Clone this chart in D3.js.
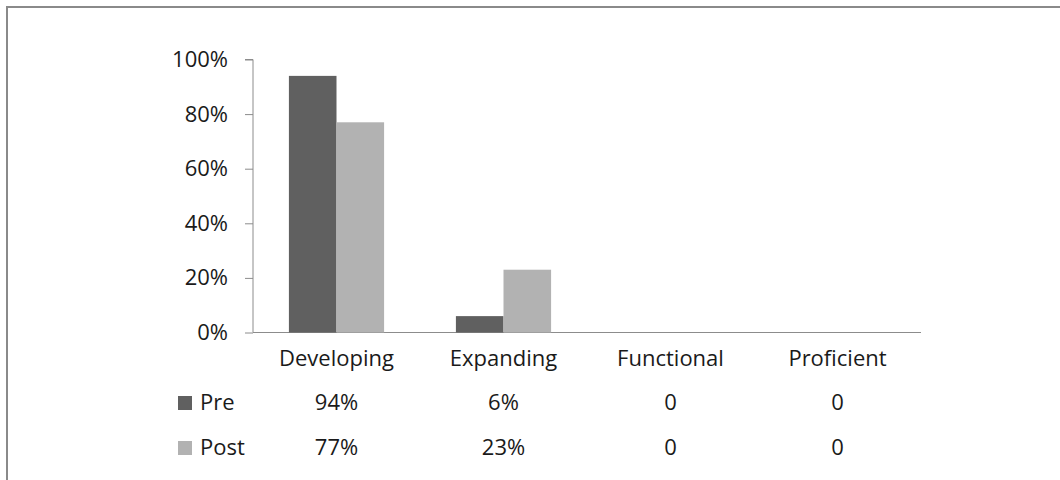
<!DOCTYPE html>
<html>
<head>
<meta charset="utf-8">
<script src="https://cdn.jsdelivr.net/npm/d3@7/dist/d3.min.js"></script>
<style>
  html, body { margin: 0; padding: 0; background: #fff; }
  svg { display: block; }
  text { font-family: "Open Sans", "Noto Sans", sans-serif; fill: #1a1a1a; }
</style>
</head>
<body>
<svg id="chart" width="1060" height="480"></svg>
<script>
// Proficiency levels and the share of students at each, before and after
const categories = ["Developing", "Expanding", "Functional", "Proficient"];
const seriesNames = ["Pre", "Post"];
const preValues = [0.94, 0.06, 0, 0];
const postValues = [0.77, 0.23, 0, 0];
const preLabels = ["94%", "6%", "0", "0"];
const postLabels = ["77%", "23%", "0", "0"];
const yTicks = [0, 0.2, 0.4, 0.6, 0.8, 1.0];

const colors = { Pre: "#606060", Post: "#b2b2b2" };
const axisColor = "#8c8c8c";
const fontSize = "22px";

const svg = d3.select("#chart");

// outer frame (only top and left edges fall inside the view)
svg.append("rect")
  .attr("x", 7).attr("y", 7)
  .attr("width", 1100).attr("height", 520)
  .attr("fill", "none")
  .attr("stroke", "#8a8a8a")
  .attr("stroke-width", 2);

const plot = { left: 253, right: 921, top: 59.5, bottom: 332.5 };

const x = d3.scaleBand()
  .domain(categories)
  .range([plot.left, plot.right])
  .paddingInner(0.43)
  .paddingOuter(0.215);

const xSub = d3.scaleBand()
  .domain(seriesNames)
  .range([0, x.bandwidth()]);

const y = d3.scaleLinear()
  .domain([0, 1])
  .range([plot.bottom, plot.top]);

// y axis
const yAxis = svg.append("g")
  .attr("transform", `translate(${plot.left},0)`)
  .call(d3.axisLeft(y).tickValues(yTicks).tickFormat(d3.format(".0%")).tickSize(8).tickPadding(17));
yAxis.select(".domain").attr("stroke", axisColor).attr("d", `M-8,${y(1)}H0V${y(0)}`);
yAxis.selectAll(".tick line").attr("stroke", axisColor);
yAxis.selectAll(".tick text")
  .attr("fill", "#1a1a1a")
  .style("font-size", fontSize)
  .style("font-family", "'Open Sans', 'Noto Sans', sans-serif");

// baseline
svg.append("line")
  .attr("x1", plot.left).attr("x2", plot.right)
  .attr("y1", y(0)).attr("y2", y(0))
  .attr("stroke", axisColor);

// bars
const rows = categories.map((c, i) => ({ cat: c, Pre: preValues[i], Post: postValues[i] }));
const groups = svg.append("g").selectAll("g")
  .data(rows)
  .join("g")
  .attr("transform", d => `translate(${x(d.cat)},0)`);

groups.selectAll("rect")
  .data(d => seriesNames.map(s => ({ s, v: d[s] })))
  .join("rect")
  .attr("x", d => xSub(d.s))
  .attr("width", xSub.bandwidth())
  .attr("y", d => y(d.v))
  .attr("height", d => y(0) - y(d.v))
  .attr("fill", d => colors[d.s]);

// category labels
svg.append("g").selectAll("text")
  .data(categories)
  .join("text")
  .attr("x", d => x(d) + x.bandwidth() / 2)
  .attr("y", 366)
  .attr("text-anchor", "middle")
  .style("font-size", fontSize)
  .text(d => d);

// data table rows with legend keys
const tableRows = [
  { name: "Pre", labels: preLabels, y: 410 },
  { name: "Post", labels: postLabels, y: 455 }
];

tableRows.forEach(r => {
  svg.append("rect")
    .attr("x", 178).attr("y", r.y - 14)
    .attr("width", 14).attr("height", 14)
    .attr("fill", colors[r.name]);
  svg.append("text")
    .attr("x", 200).attr("y", r.y)
    .style("font-size", fontSize)
    .text(r.name);
  svg.append("g").selectAll("text")
    .data(categories)
    .join("text")
    .attr("x", d => x(d) + x.bandwidth() / 2)
    .attr("y", r.y)
    .attr("text-anchor", "middle")
    .style("font-size", fontSize)
    .text((d, i) => r.labels[i]);
});
</script>
</body>
</html>
